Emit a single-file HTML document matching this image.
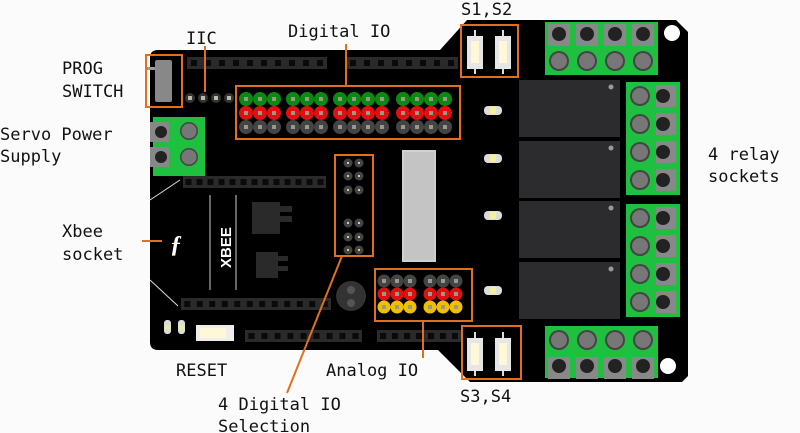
<!DOCTYPE html>
<html><head><meta charset="utf-8"><style>
html,body{margin:0;padding:0;background:#fbfbfb;width:800px;height:433px;overflow:hidden}
svg{display:block}
text{font-family:"DejaVu Sans Mono","Liberation Mono",monospace;font-size:17px;fill:#111}
</style></head><body>
<svg id="s" width="800" height="433" viewBox="0 0 800 433" xmlns="http://www.w3.org/2000/svg">
<path d="M158 50 L440 50 L467 20 L676 20 L688 32 L688 376 L682 382 L470 382 L438 350 L158 350 Q150 350 150 342 L150 58 Q150 50 158 50 Z" fill="#000"/>
<g id="g"></g>
<g stroke="#e07020" stroke-width="2" fill="none">
<rect x="146" y="55" width="36" height="52"/>
<rect x="236" y="86" width="224" height="53"/>
<rect x="461" y="25" width="57" height="52"/>
<rect x="335" y="155" width="38" height="101"/>
<rect x="375" y="269" width="97" height="52"/>
<rect x="462" y="326" width="59" height="53"/>
<line x1="205" y1="46" x2="205" y2="92"/>
<line x1="346" y1="44" x2="346" y2="86"/>
<line x1="423" y1="321" x2="423" y2="358"/>
<line x1="142" y1="241" x2="162" y2="241"/>
<line x1="342" y1="256" x2="287" y2="393"/>
</g>
<g>
<text x="186" y="44">IIC</text>
<text x="288" y="37">Digital IO</text>
<text x="461" y="15">S1,S2</text>
<text x="62" y="74">PROG</text>
<text x="62" y="97">SWITCH</text>
<text x="0" y="140">Servo Power</text>
<text x="0" y="162">Supply</text>
<text x="62" y="237">Xbee</text>
<text x="62" y="260">socket</text>
<text x="708" y="160">4 relay</text>
<text x="708" y="182">sockets</text>
<text x="176" y="376">RESET</text>
<text x="326" y="376">Analog IO</text>
<text x="460" y="402">S3,S4</text>
<text x="218" y="410">4 Digital IO</text>
<text x="218" y="432">Selection</text>
</g>
</svg>
<script>
var g=document.getElementById('g'),h='';
function R(x,y,w,hh,f,ex){h+='<rect x="'+x+'" y="'+y+'" width="'+w+'" height="'+hh+'" fill="'+f+'" '+(ex||'')+'/>';}
function C(x,y,r,f){h+='<circle cx="'+x+'" cy="'+y+'" r="'+r+'" fill="'+f+'"/>';}
function header(x,y,n,p){R(x,y,n*p,12,'#2a2a2a');for(var i=0;i<n;i++)R(x+i*p+p/2-3,y+3,6,6,'#0a0a0a');}
header(187,57,10,14);header(346,57,8,14);
header(183,176,13,11);header(181,298,12,12.5);header(245,330,9,13);header(377,330,7,12);
for(var i=0;i<4;i++){C(190+i*13,98,5,'#333');R(188+i*13,96,4,4,'#bba');}
var xs=[246,260,274, 293,307,321, 340,354,368,382, 403,417,431,445];
var cols=['#0a8a10','#e01010','#444'];
for(var r=0;r<3;r++)for(var i=0;i<14;i++){C(xs[i],99+r*14,7,cols[r]);R(xs[i]-2,97+r*14,4,4,'#998');}
var ax=[384,397,410,430,443,456];var ac=['#444','#e01010','#f0c000'];
for(var r=0;r<3;r++)for(var i=0;i<6;i++){C(ax[i],281+r*13,6.5,ac[r]);R(ax[i]-2,279+r*13,4,4,'#998');}
[[163,176,190],[223,237,250]].forEach(function(a){a.forEach(function(y){C(348,y,4.5,'#444');C(359,y,4.5,'#444');R(347,y-1,2,2,'#cc9');R(358,y-1,2,2,'#cc9');});});
R(155,60,17,42,'#888','rx="2"');R(147,67,8,3,'#999');
R(153,117,52,59,'#1fc040');R(150,122,19,20,'#888');R(150,147,19,20,'#888');
C(161,132,6,'#222');C(161,157,6,'#222');C(189,131,9,'#444');C(189,131,7.5,'#777');C(189,157,9,'#444');C(189,157,7.5,'#777');
[[467,30],[495,30],[467,332],[495,332]].forEach(function(p){R(p[0]+7,p[1],2,44,'#ddd');R(p[0],p[1]+6,16,33,'#e6e6e6');R(p[0]+4,p[1]+11,8,22,'#fff8d8');});
[110,158,215,290].forEach(function(y){R(484,y-4,18,9,'#ddd','rx="4"');R(490,y-3,6,7,'#f4f0a0');});
R(164,320,7,14,'#ddd','rx="3"');R(178,320,7,14,'#ddd','rx="3"');R(165,325,5,4,'#ee8');R(179,325,5,4,'#ee8');
R(196,325,38,16,'#eee');R(200,328,26,10,'#fff8d8');
[80,141,201,262].forEach(function(y){R(519,y,101,57,'#2c2c2e');C(611,y+7,2.5,'#999');});
[[626,82],[626,204]].forEach(function(p){R(p[0],p[1],54,113,'#1fc040');for(var i=0;i<4;i++){var y=p[1]+14+i*28;C(p[0]+14,y,10,'#444');C(p[0]+14,y,8,'#777');R(p[0]+30,y-11,20,22,'#888');C(p[0]+37,y,7,'#222');}});
R(545,22,113,53,'#1fc040');for(var i=0;i<4;i++){var x=559+i*28;R(x-11,24,22,22,'#888');C(x,34,7,'#222');C(x,61,10,'#444');C(x,61,8,'#777');}
C(672,33,8,'#fff');
R(545,326,113,52,'#1fc040');for(var i=0;i<4;i++){var x=559+i*28;C(x,340,10,'#444');C(x,340,8,'#777');R(x-11,357,22,22,'#888');C(x,366,7,'#222');}
C(668,366,8,'#fff');
R(402,150,34,112,'#d0d0d0');R(404,152,30,108,'#c4c4c4');
h+='<line x1="210" y1="195" x2="210" y2="290" stroke="#ccc"/><line x1="236" y1="195" x2="236" y2="290" stroke="#ccc"/>';
h+='<line x1="150" y1="200" x2="180" y2="180" stroke="#ddd"/><line x1="150" y1="280" x2="178" y2="306" stroke="#ddd"/>';
h+='<text x="0" y="0" transform="translate(231,268) rotate(-90)" style="font-family:Liberation Sans,sans-serif;font-size:15px;font-weight:bold;fill:#fff">XBEE</text>';
h+='<text x="170" y="252" style="font-family:Liberation Serif,serif;font-size:24px;font-style:italic;font-weight:bold;fill:#fff">&#402;</text>';
R(252,202,28,32,'#2a2a2a');R(280,206,12,6,'#2a2a2a');R(280,216,12,6,'#2a2a2a');
R(256,252,22,26,'#2a2a2a');R(278,256,10,5,'#2a2a2a');R(278,266,10,5,'#2a2a2a');
C(351,296,15,'#333');C(351,290,4,'#555');C(351,303,4,'#555');
g.innerHTML=h;
</script>
</body></html>
